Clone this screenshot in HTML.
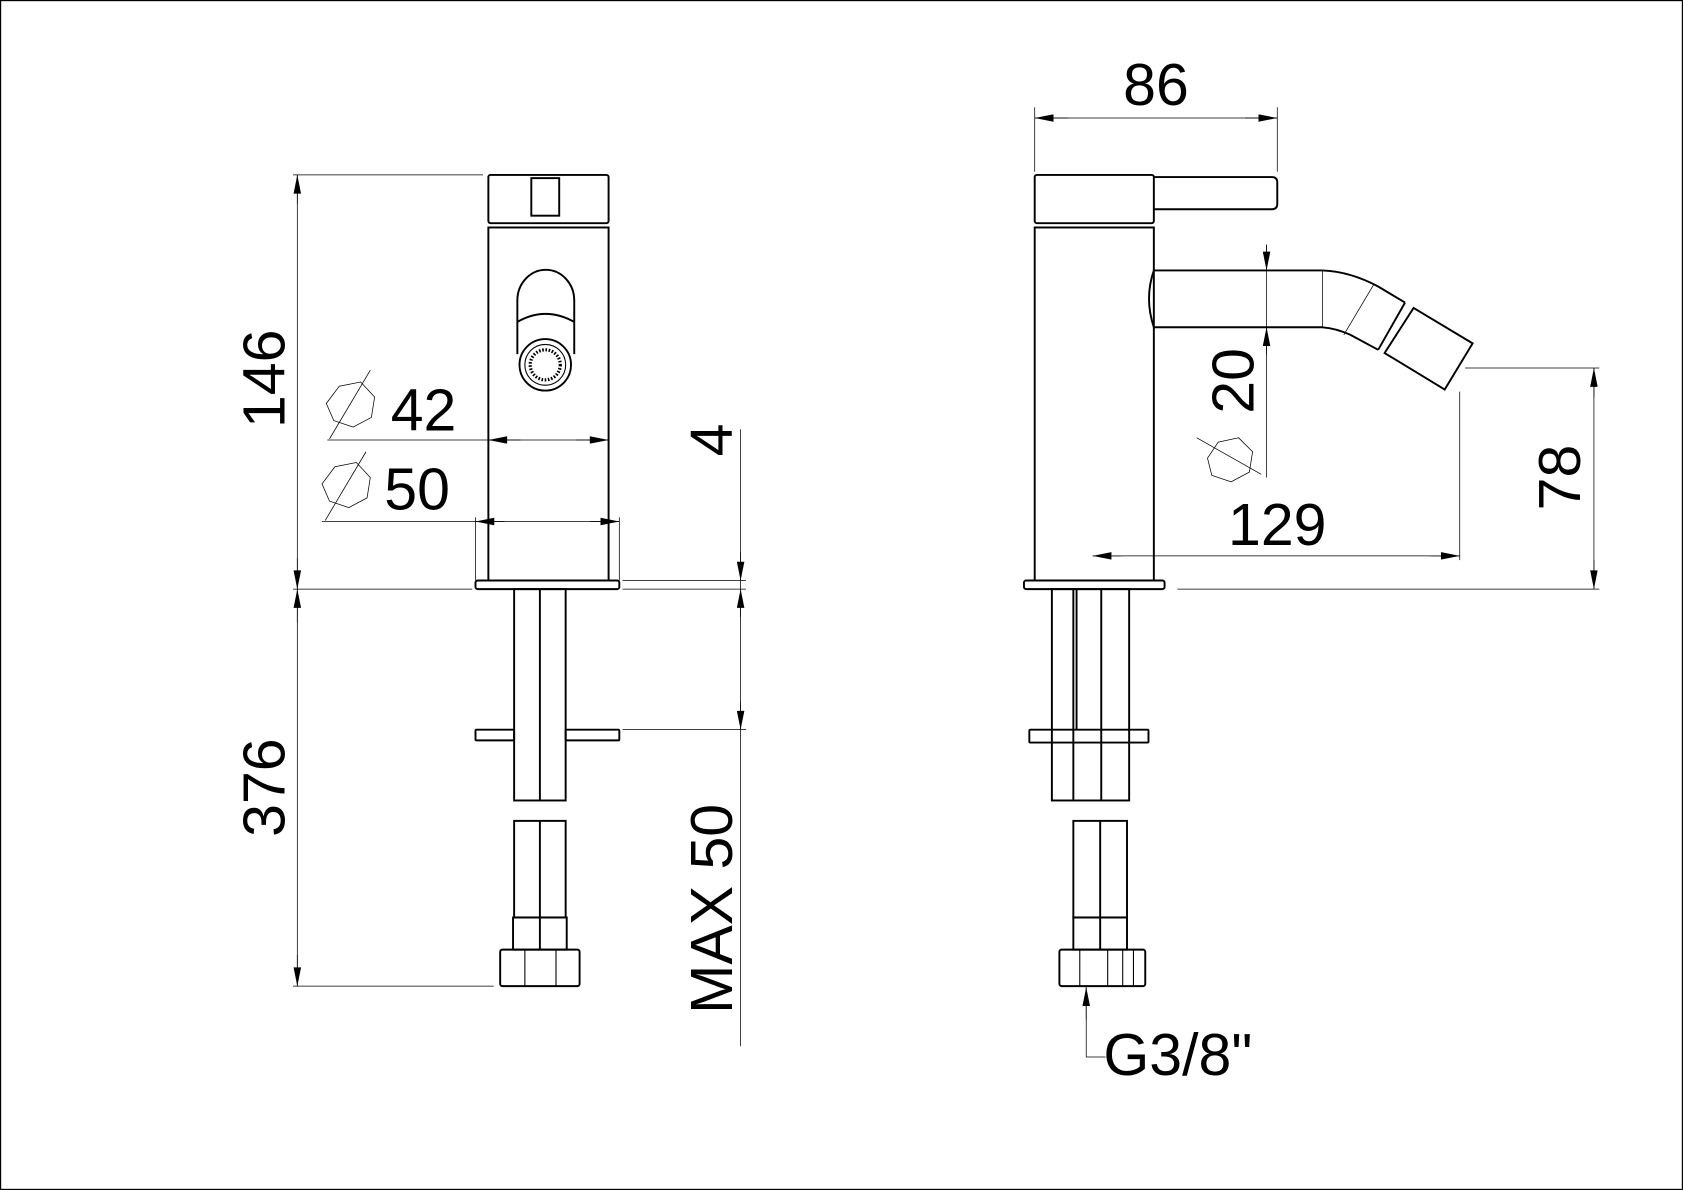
<!DOCTYPE html>
<html><head><meta charset="utf-8"><style>
html,body{margin:0;padding:0;background:#fff;}
svg{display:block;}
text{font-family:"Liberation Sans",sans-serif;fill:#000;}
</style></head><body>
<svg width="1683" height="1190" viewBox="0 0 1568 1109" preserveAspectRatio="none" xmlns="http://www.w3.org/2000/svg">
<defs>
<marker id="a" viewBox="0 0 10 4" refX="10" refY="2" markerWidth="18" markerHeight="7" markerUnits="userSpaceOnUse" orient="auto"><path d="M0,0 L10,2 L0,4z" fill="#000"/></marker>
</defs>
<rect x="0.5" y="0.5" width="1567" height="1108" fill="#fff" stroke="#000" stroke-width="1.2"/>
<g fill="none" stroke="#000" stroke-width="0.7">
<line x1="277" y1="163" x2="277" y2="919"/>
<line x1="273" y1="163" x2="450" y2="163"/>
<line x1="273" y1="549" x2="440" y2="549"/>
<line x1="273" y1="919" x2="460" y2="919"/>
<line x1="277" y1="190" x2="277" y2="163" marker-end="url(#a)"/>
<line x1="277" y1="520" x2="277" y2="549" marker-end="url(#a)"/>
<line x1="277" y1="580" x2="277" y2="549" marker-end="url(#a)"/>
<line x1="277" y1="890" x2="277" y2="919" marker-end="url(#a)"/>
<line x1="305" y1="410" x2="567" y2="410"/>
<line x1="485" y1="410" x2="455" y2="410" marker-end="url(#a)"/>
<line x1="537" y1="410" x2="567" y2="410" marker-end="url(#a)"/>
<line x1="300" y1="486" x2="577" y2="486"/>
<line x1="443" y1="482" x2="443" y2="541"/>
<line x1="577" y1="482" x2="577" y2="541"/>
<line x1="470" y1="486" x2="443" y2="486" marker-end="url(#a)"/>
<line x1="550" y1="486" x2="577" y2="486" marker-end="url(#a)"/>
<polygon points="316,360 336,356 349,370 346,389 329,398 311,392 304,376"/>
<line x1="307" y1="409" x2="345" y2="345"/>
<polygon points="312,435 332,431 345,445 342,464 325,473 307,467 300,451"/>
<line x1="303" y1="485" x2="341" y2="421"/>
<line x1="690" y1="400" x2="690" y2="975"/>
<line x1="580" y1="541" x2="695" y2="541"/>
<line x1="580" y1="549" x2="695" y2="549"/>
<line x1="580" y1="680" x2="695" y2="680"/>
<line x1="690" y1="515" x2="690" y2="541" marker-end="url(#a)"/>
<line x1="690" y1="575" x2="690" y2="549" marker-end="url(#a)"/>
<line x1="690" y1="654" x2="690" y2="680" marker-end="url(#a)"/>
<line x1="964" y1="100" x2="964" y2="160"/>
<line x1="1190" y1="100" x2="1190" y2="160"/>
<line x1="964" y1="110" x2="1190" y2="110"/>
<line x1="995" y1="110" x2="964" y2="110" marker-end="url(#a)"/>
<line x1="1160" y1="110" x2="1190" y2="110" marker-end="url(#a)"/>
<line x1="1180" y1="228" x2="1180" y2="445"/>
<line x1="1180" y1="228" x2="1180" y2="252" marker-end="url(#a)"/>
<line x1="1180" y1="330" x2="1180" y2="305" marker-end="url(#a)"/>
<polygon points="1135,412 1154,408 1167,421 1164,440 1147,449 1129,443 1125,427"/>
<line x1="1115" y1="408" x2="1175" y2="442"/>
<line x1="1018" y1="518" x2="1360" y2="518"/>
<line x1="1045" y1="518" x2="1018" y2="518" marker-end="url(#a)"/>
<line x1="1332" y1="518" x2="1360" y2="518" marker-end="url(#a)"/>
<line x1="1360" y1="365" x2="1360" y2="522"/>
<line x1="1365" y1="343" x2="1490" y2="343"/>
<line x1="1097" y1="549" x2="1490" y2="549"/>
<line x1="1485" y1="343" x2="1485" y2="549"/>
<line x1="1485" y1="370" x2="1485" y2="343" marker-end="url(#a)"/>
<line x1="1485" y1="522" x2="1485" y2="549" marker-end="url(#a)"/>
<polyline points="1030,985 1012,985 1012,920"/>
<line x1="1012" y1="950" x2="1012" y2="920" marker-end="url(#a)"/>
</g>
<g fill="none" stroke="#000" stroke-width="1.8">
<rect x="455" y="163" width="112" height="45" rx="2"/>
<rect x="495" y="166" width="26" height="35"/>
<rect x="455" y="212" width="112" height="329"/>
<rect x="443" y="541" width="134" height="8" rx="2"/>
<path d="M482,330 L482,280 A26,28 0 0 1 535,280 L535,330"/>
<path d="M482,300 Q508,285 535,300"/>
<circle cx="508" cy="340" r="24"/>
<circle cx="508" cy="340" r="19" stroke-width="1"/>
<circle cx="508" cy="340" r="14" stroke-width="3" stroke-dasharray="1.5 1.5"/>
<rect x="479" y="549" width="48" height="197"/>
<line x1="503" y1="549" x2="503" y2="746"/>
<rect x="443" y="680" width="36" height="10" rx="1"/>
<rect x="527" y="680" width="50" height="10" rx="1"/>
<rect x="479" y="765" width="48" height="90"/>
<line x1="503" y1="765" x2="503" y2="885"/>
<rect x="478" y="855" width="50" height="30"/>
<rect x="466" y="885" width="74" height="34" rx="2"/>
<line x1="489" y1="885" x2="489" y2="919" stroke-width="1"/>
<line x1="518" y1="885" x2="518" y2="919" stroke-width="1"/>
<rect x="964" y="163" width="111" height="45" rx="2"/>
<path d="M1075,165 L1185,165 Q1190,165 1190,170 L1190,190 Q1190,195 1185,195 L1075,195"/>
<rect x="964" y="212" width="111" height="329"/>
<rect x="954" y="541" width="131" height="8" rx="2"/>
<path d="M1075,252 L1232,252 Q1258,253 1284,267 L1309,282"/>
<path d="M1075,305 L1232,305 Q1245,306 1258,312 L1284,326"/>
<path d="M1075,252 Q1066,278 1075,305"/>
<line x1="1309" y1="282" x2="1284" y2="326"/>
<polygon points="1317,287 1372,320 1346,363 1290,329"/>
<line x1="1232" y1="252" x2="1232" y2="305" stroke-width="0.7"/>
<line x1="1280" y1="265" x2="1252" y2="312" stroke-width="0.7"/>
<rect x="980" y="549" width="72" height="197"/>
<line x1="1000" y1="549" x2="1000" y2="746"/>
<line x1="1003" y1="549" x2="1003" y2="680"/>
<line x1="1026" y1="549" x2="1026" y2="746"/>
<rect x="959" y="680" width="111" height="12" rx="1"/>
<rect x="1000" y="765" width="50" height="90"/>
<line x1="1025" y1="765" x2="1025" y2="885"/>
<rect x="1000" y="855" width="50" height="30"/>
<rect x="987" y="885" width="80" height="34" rx="2"/>
<line x1="1006" y1="885" x2="1006" y2="919" stroke-width="1"/>
<line x1="1032" y1="885" x2="1032" y2="919" stroke-width="1"/>
<line x1="1046" y1="885" x2="1046" y2="919" stroke-width="1"/>
<line x1="1056" y1="885" x2="1056" y2="919" stroke-width="1"/>
</g>
<g font-size="55">
<text transform="translate(265,353) rotate(-90)" text-anchor="middle">146</text>
<text transform="translate(265,734) rotate(-90)" text-anchor="middle">376</text>
<text x="364" y="401">42</text>
<text x="358" y="475">50</text>
<text transform="translate(682,410) rotate(-90)" text-anchor="middle">4</text>
<text transform="translate(682,847) rotate(-90)" text-anchor="middle">MAX 50</text>
<text x="1077" y="98" text-anchor="middle">86</text>
<text transform="translate(1168,355) rotate(-90)" text-anchor="middle">20</text>
<text x="1190" y="508" text-anchor="middle">129</text>
<text transform="translate(1472,445) rotate(-90)" text-anchor="middle">78</text>
<text x="1028" y="1002">G3/8"</text>
</g>
</svg>
</body></html>
